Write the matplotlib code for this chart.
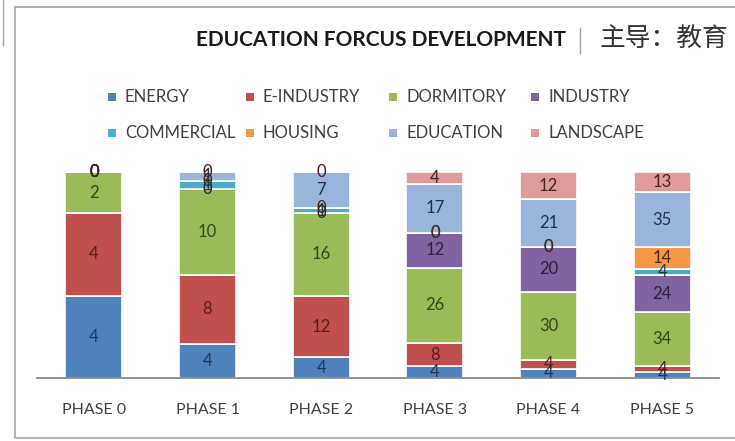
import numpy as np
import matplotlib
matplotlib.use("Agg")
import matplotlib.pyplot as plt
from matplotlib.patches import Rectangle
from matplotlib.lines import Line2D

plt.rcParams['font.family'] = ['Lato', 'DejaVu Sans']

phases = ["PHASE 0", "PHASE 1", "PHASE 2", "PHASE 3", "PHASE 4", "PHASE 5"]
series = ["ENERGY", "E-INDUSTRY", "DORMITORY", "INDUSTRY",
          "COMMERCIAL", "HOUSING", "EDUCATION", "LANDSCAPE"]

energy     = [4, 4, 4, 4, 4, 4]
e_industry = [4, 8, 12, 8, 4, 4]
dormitory  = [2, 10, 16, 26, 30, 34]
industry   = [0, 0, 0, 12, 20, 24]
commercial = [0, 1, 1, 0, 0, 4]
housing    = [0, 0, 0, 0, 0, 14]
education  = [0, 1, 7, 17, 21, 35]
landscape  = [0, 0, 0, 4, 12, 13]

colors = ["#4F81BD", "#C0504D", "#9BBB59", "#8064A2",
          "#4BACC6", "#F79646", "#9AB5DC", "#DE9B9B"]
label_colors = ["#1F3558", "#5A1C1A", "#34461A", "#2A1F40",
                "#1A3A44", "#4A2A0A", "#1F2F4F", "#4A2020"]

data = np.array([energy, e_industry, dormitory, industry,
                 commercial, housing, education, landscape], dtype=float)
totals = data.sum(axis=0)
shares = data / totals

W, H = 735, 441
fig = plt.figure(figsize=(W / 100, H / 100), dpi=100)
ax = fig.add_axes([37 / W, (H - 378) / H, 682 / W, 206 / H])

x = np.arange(len(phases))
bottom = np.zeros(len(phases))
for i, name in enumerate(series):
    ax.bar(x, shares[i], 0.5, bottom=bottom, color=colors[i],
           edgecolor="white", linewidth=1.2, label=name)
    for j in range(len(phases)):
        ax.text(x[j], bottom[j] + shares[i][j] / 2, f"{int(data[i][j])}",
                ha="center", va="center", fontsize=12, color=label_colors[i])
    bottom += shares[i]

ax.set_xlim(-0.5, len(phases) - 0.5)
ax.set_ylim(0, 1)
ax.set_yticks([])
ax.set_xticks(x)
ax.set_xticklabels(phases, fontsize=11.5, color="#404040")
ax.tick_params(axis="x", length=0, pad=18)
for s in ["top", "right", "left"]:
    ax.spines[s].set_visible(False)
ax.spines["bottom"].set_color("#808080")
ax.spines["bottom"].set_linewidth(1.2)

# outer frame
fig.add_artist(Rectangle((15 / W, 1 - 438 / H), 740 / W, 431 / H,
                         transform=fig.transFigure, fill=False,
                         edgecolor="#A6A6A6", linewidth=1.2))
fig.add_artist(Line2D([3 / W, 3 / W], [1, 1 - 45 / H], transform=fig.transFigure,
                      color="#A6A6A6", linewidth=1))

# title
fig.text(196 / W, 1 - 40 / H, "EDUCATION FORCUS DEVELOPMENT", fontsize=15,
         fontweight="bold", color="#1A1A1A", ha="left", va="center")
fig.add_artist(Line2D([580 / W, 580 / W], [1 - 28 / H, 1 - 53 / H],
                      transform=fig.transFigure, color="#A0A0A0", linewidth=1))
fig.text(600 / W, 1 - 40 / H, "主导：教育", fontsize=18.5,
         family=["Noto Sans CJK SC", "DejaVu Sans"], fontweight="light",
         color="#333333", ha="left", va="center")

# legend
col_x = [112, 250, 393, 535]
row_y = [97, 133]
for i, name in enumerate(series):
    cx = col_x[i % 4]
    cy = row_y[i // 4]
    fig.add_artist(Rectangle(((cx - 4) / W, 1 - (cy + 4) / H), 8 / W, 8 / H,
                             transform=fig.transFigure, facecolor=colors[i],
                             edgecolor="none"))
    fig.text((cx + 13) / W, 1 - cy / H, name, fontsize=12, color="#404040",
             ha="left", va="center")

fig.savefig("out.png", dpi=100)
